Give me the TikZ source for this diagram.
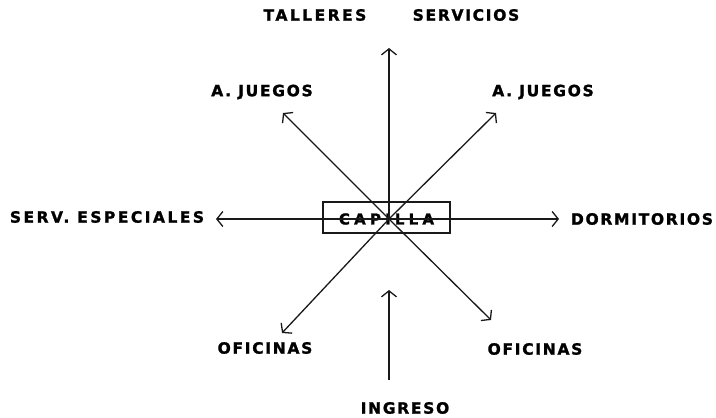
\documentclass[tikz,border=0pt]{standalone}
\usepackage{fontspec}
\usetikzlibrary{arrows.meta}
\setmainfont{DejaVu Sans}
\newfontfamily\spaced[LetterSpace=11,BoldFeatures={FakeBold=1.5}]{DejaVu Sans}
\newfontfamily\midsp[LetterSpace=16,BoldFeatures={FakeBold=1.5}]{DejaVu Sans}
\newfontfamily\wide[LetterSpace=28,BoldFeatures={FakeBold=1.5}]{DejaVu Sans}
\begin{document}
\begin{tikzpicture}[x=1pt,y=-1pt,
  lab/.style={font=\fontsize{15.5}{17}\selectfont\spaced\bfseries,inner sep=0pt,text=black},
  labw/.style={font=\fontsize{15.5}{17}\selectfont\midsp\bfseries,inner sep=0pt,text=black},
  arr/.style={draw=black!90,line width=1.3pt,-{Straight Barb[length=6pt,width=15pt,line width=1.3pt]}}]
\useasboundingbox (0,0) rectangle (716,418);
\node[labw] (tall) at (315,15) {TALLERES};
\node[lab] (serv) at (466,15) {SERVICIOS};
\node[lab] (ajl) at (262,92) {A. JUEGOS};
\node[lab] (ajr) at (543,92) {A. JUEGOS};
\node[labw] (se) at (107,217) {SERV. ESPECIALES};
\node[lab] (dor) at (642,219) {DORMITORIOS};
\node[lab] (ofl) at (265,348) {OFICINAS};
\node[lab] (ofr) at (535,349) {OFICINAS};
\node[lab] (ing) at (405,408) {INGRESO};
\node[draw=black!90,line width=1.3pt,minimum width=127pt,minimum height=31pt,inner sep=0pt] (cap) at (386.5,217.5) {};
\node[lab,font=\fontsize{15}{16}\selectfont\wide\bfseries] (capt) at (386.5,219) {CAPILLA};
\coordinate (c) at (389,219);
\coordinate (n) at (389,48);
\coordinate (s) at (389,380);
\coordinate (si) at (389,290);
\coordinate (w) at (216,219);
\coordinate (e) at (559,219);
\coordinate (nw) at (283,113);
\coordinate (ne) at (496,113);
\coordinate (sw) at (282,333);
\coordinate (se2) at (491,320);
\draw[arr] (c) -- (n);
\draw[arr] (s) -- (si);
\draw[arr] (c) -- (w);
\draw[arr] (c) -- (e);
\draw[arr] (c) -- (nw);
\draw[arr] (c) -- (ne);
\draw[arr] (c) -- (sw);
\draw[arr] (c) -- (se2);
\end{tikzpicture}
\end{document}
